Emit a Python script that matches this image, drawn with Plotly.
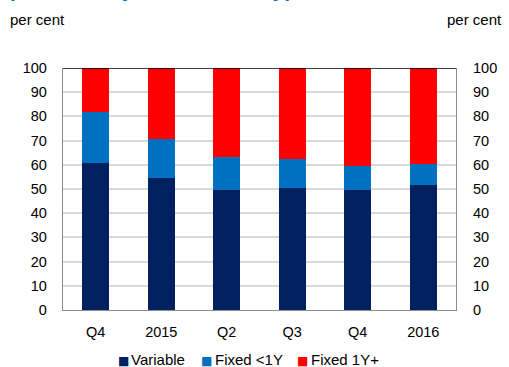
import plotly.graph_objects as go

# Period labels (the axis repeats "Q4", so bars sit on numeric slots)
periods = ["Q4", "2015", "Q2", "Q3", "Q4", "2016"]

# Share of new loans by interest rate fixation, per cent
variable = [60.8, 54.7, 49.6, 50.5, 49.4, 51.7]
fixed_under_1y = [21.2, 15.9, 13.6, 12.0, 10.3, 8.8]
fixed_1y_plus = [18.0, 29.4, 36.8, 37.5, 40.3, 39.5]

series_names = ["Variable", "Fixed <1Y", "Fixed 1Y+"]
series_colors = ["#002060", "#0070C0", "#FF0000"]
y_ticks = list(range(0, 101, 10))

FONT = "Liberation Sans, Arial, sans-serif"
slots = list(range(len(periods)))

# plot-area geometry in pixels
L, R, T, B = 63, 50, 68, 57
PW = 509 - L - R

fig = go.Figure()
for name, values, color in zip(series_names,
                               [variable, fixed_under_1y, fixed_1y_plus],
                               series_colors):
    fig.add_trace(go.Bar(x=slots, y=values, name=name, width=0.41,
                         marker=dict(color=color, line=dict(width=0)),
                         showlegend=False))

# invisible trace to drive the right-hand axis
fig.add_trace(go.Scatter(x=[slots[0]], y=[0], yaxis="y2", mode="markers",
                         marker=dict(opacity=0), showlegend=False,
                         hoverinfo="skip"))

axis_font = dict(family=FONT, size=14.5, color="#000000")

fig.update_layout(
    width=509, height=367,
    margin=dict(l=L, r=R, t=T, b=B),
    paper_bgcolor="white", plot_bgcolor="white",
    barmode="stack",
    font=dict(family=FONT, size=14.5, color="#000000"),
    xaxis=dict(range=[-0.5, len(periods) - 0.5], tickvals=slots,
               ticktext=periods, showgrid=False, zeroline=False,
               showline=True, linecolor="#8c8c8c", linewidth=1.3,
               ticks="", tickfont=axis_font, ticklabelstandoff=8),
    yaxis=dict(range=[0, 100], tickvals=y_ticks, showgrid=True,
               gridcolor="#d9d9d9", gridwidth=1.5, zeroline=False,
               showline=True, linecolor="#8c8c8c", linewidth=1.3,
               ticks="", tickfont=axis_font, ticklabelstandoff=12),
    yaxis2=dict(range=[0, 100], tickvals=y_ticks, overlaying="y",
                side="right", showgrid=False, zeroline=False,
                showline=True, linecolor="#8c8c8c", linewidth=1.3,
                ticks="", tickfont=axis_font, ticklabelstandoff=13),
)

# dark top border of the plot area
fig.add_shape(type="line", xref="paper", yref="y", x0=0, x1=1,
              y0=100, y1=100, line=dict(color="#000000", width=1.3))

# title line (second line of the heading, runs off the top edge)
fig.add_annotation(text="<b>purchase by interest rate type</b>",
                   xref="paper", yref="paper", x=0, y=1,
                   xanchor="left", yanchor="bottom", xshift=-55, yshift=65,
                   showarrow=False,
                   font=dict(family=FONT, size=21, color="#0A6FC2"))

# unit labels above both axes
fig.add_annotation(text="per cent", xref="paper", yref="paper", x=0, y=1,
                   xanchor="left", yanchor="middle", xshift=-55, yshift=49,
                   showarrow=False, font=dict(family=FONT, size=15))
fig.add_annotation(text="per cent", xref="paper", yref="paper", x=1, y=1,
                   xanchor="right", yanchor="middle", xshift=48, yshift=49,
                   showarrow=False, font=dict(family=FONT, size=15))

# legend row: colored square + series name
square_px = [124, 208, 304.5]
label_px = [130, 214.5, 311]
for name, color, sx, lx in zip(series_names, series_colors,
                               square_px, label_px):
    fig.add_annotation(text="■", xref="paper", yref="paper",
                       x=(sx - L) / PW, y=0, xanchor="center",
                       yanchor="middle", yshift=-(361 - (367 - B)),
                       showarrow=False,
                       font=dict(family="DejaVu Sans", size=12, color=color))
    fig.add_annotation(text=name.replace("<", "&lt;"), xref="paper",
                       yref="paper", x=(lx - L) / PW, y=0, xanchor="left",
                       yanchor="middle", yshift=-(359.5 - (367 - B)),
                       showarrow=False, font=dict(family=FONT, size=15))

fig.write_html("out.html")
